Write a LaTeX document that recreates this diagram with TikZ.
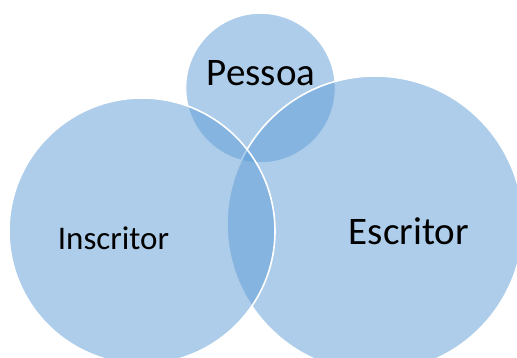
\documentclass[tikz,border=0pt]{standalone}
\usepackage{fontspec}
\setmainfont{Carlito}
\definecolor{vennblue}{RGB}{91,155,213}

\tikzset{
  venn/.style={circle, inner sep=0pt, fill=vennblue, fill opacity=0.5,
    draw=white, line width=1.6pt},
  vlabel/.style={text=black, inner sep=0pt, font=\fontsize{39}{46}\selectfont},
}

\begin{document}
\begin{tikzpicture}[x=1pt, y=-1pt]
        	% Page frame
        	\useasboundingbox (0,0) rectangle (517,358);
        	\clip (0,0) rectangle (517,358);
        	% Circles, back to front
        	\node[venn, minimum size=150pt] (pessoa) at (260.5, 88) {};
        	\node[venn, minimum size=296pt] (escritor) at (375, 224) {};
        	\node[venn, minimum size=266pt] (inscritor) at (142, 231) {};
        	% Texts
        	\node[vlabel] (tpessoa) at ([shift={(0.5pt,15pt)}]pessoa.center) {Pessoa};
        	\node[vlabel, font=\fontsize{33}{40}\selectfont] (tinscritor) at ([shift={(-28.5pt,-7pt)}]inscritor.center) {Inscritor};
        	\node[vlabel] (tescritor) at ([shift={(34pt,-7pt)}]escritor.center) {Escritor};
        \end{tikzpicture}
\end{document}
